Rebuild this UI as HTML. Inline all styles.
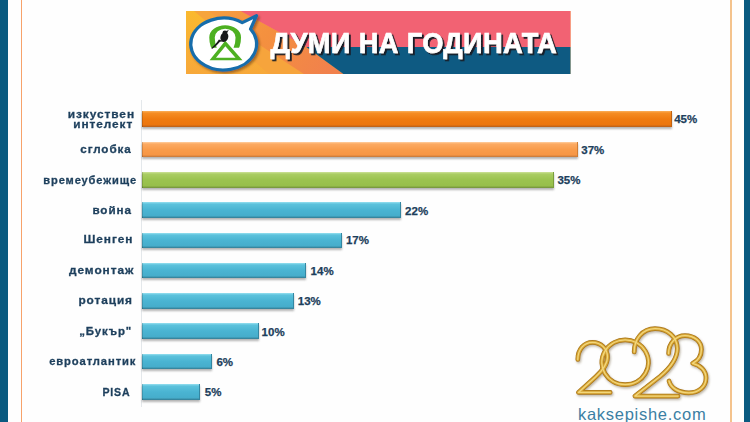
<!DOCTYPE html>
<html lang="bg">
<head>
<meta charset="utf-8">
<title>Думи на годината 2023</title>
<style>
  html, body { margin: 0; padding: 0; }
  body { width: 750px; height: 422px; overflow: hidden; background: #ffffff;
         font-family: "Liberation Sans", sans-serif; }
  #stage { position: relative; width: 750px; height: 422px; overflow: hidden; background: #fefefe; }
  .edge-l { position: absolute; left: 0; top: 0; width: 8px; height: 422px; background: #0a5a80; }
  .edge-r { position: absolute; left: 743.7px; top: 0; width: 6.3px; height: 422px; background: #0a5a80; }
  .line-l { position: absolute; left: 20.5px; top: 0; width: 1.5px; height: 422px; background: #f7a26a; }
  .line-r { position: absolute; left: 729.9px; top: 0; width: 2.1px; height: 422px; background: #f4c38d; }
  .axis { position: absolute; left: 141px; top: 100px; width: 1px; height: 307px; background: #e4e8eb; }

  .bar { position: absolute; left: 141.5px; height: 15.7px; box-sizing: border-box;
         box-shadow: 0 1.5px 2px rgba(90,90,90,.45); border-left: 1px solid rgba(0,0,0,.16); }
  .o1 { background: linear-gradient(#fbb05a 0, #f58d24 13%, #ef7b10 50%, #ec760e 86%, #b55f1c 100%); border-right: 1.5px solid #c2620f; }
  .o2 { background: linear-gradient(#ffcfa0 0, #fcaa62 13%, #f99c4b 50%, #f79644 86%, #c1773b 100%); border-right: 1.5px solid #cf7c33; }
  .g1 { background: linear-gradient(#cde299 0, #aacd63 13%, #9bc34f 50%, #97bf4b 86%, #71903b 100%); border-right: 1.5px solid #7a9d3c; }
  .b1 { background: linear-gradient(#97e0f0 0, #5cc2dc 13%, #4ab4d2 50%, #46adcb 86%, #327a91 100%); border-right: 1.5px solid #3486a1; }

  .lbl { position: absolute; -webkit-text-stroke: 0.3px #1d3f5c; white-space: nowrap; font-weight: bold; font-size: 11.5px; line-height: 12px; letter-spacing: 0.9px; color: #1d3f5c; transform-origin: 100% 50%; }
  .val { position: absolute; -webkit-text-stroke: 0.25px #1d3f5c; font-weight: bold; font-size: 11.5px; line-height: 12px; color: #1d3f5c; white-space: nowrap; }

  .site { position: absolute; left: 578px; top: 403.9px; font-size: 16.5px; line-height: 20px; letter-spacing: 0.72px; color: #3b7fa3; white-space: nowrap; }
</style>
</head>
<body>
<div id="stage">
  <div class="edge-l"></div><div class="edge-r"></div>
  <div class="line-l"></div><div class="line-r"></div>

  <!-- header banner -->
  <svg id="banner" style="position:absolute;left:186.3px;top:10.7px" width="384.5" height="63.7" viewBox="0 0 385 65" preserveAspectRatio="none">
    <defs>
      <filter id="ts" x="-5%" y="-20%" width="110%" height="150%">
        <feDropShadow dx="1.9" dy="1.9" stdDeviation="0.3" flood-color="#171c25" flood-opacity="1"/>
      </filter>
      <filter id="bs" x="-10%" y="-10%" width="125%" height="125%">
        <feDropShadow dx="1.6" dy="1.8" stdDeviation="1.1" flood-color="#6b3d0c" flood-opacity="0.6"/>
      </filter>
      <linearGradient id="yl" x1="0" y1="0" x2="0" y2="1">
        <stop offset="0" stop-color="#fab92f"/><stop offset="1" stop-color="#f7a83a"/>
      </linearGradient>
      <linearGradient id="sal" gradientUnits="userSpaceOnUse" x1="30" y1="0" x2="140" y2="65"><stop offset="0" stop-color="#f69d40"/><stop offset="0.45" stop-color="#f4903f"/><stop offset="1" stop-color="#f1814c"/></linearGradient>
      <clipPath id="ringclip"><rect x="0" y="0" width="80" height="37.4"/></clipPath>
    </defs>
    <rect x="0" y="0" width="385" height="65" fill="url(#yl)"/>
    <!-- diagonal stripes -->
    <polygon points="8,0 24,0 121,65 84,65" fill="#f6a43c"/>
    <polygon points="22,0 54.5,0 120.5,36.8 158.5,65 119,65" fill="url(#sal)"/>
    <polygon points="54.5,0 385,0 385,36.8 120.5,36.8" fill="#f26273"/>
    <polygon points="120.5,36.8 385,36.8 385,65 158.5,65" fill="#0e5a82"/>
    <!-- speech bubble -->
    <g filter="url(#bs)">
      <path d="M56.3,11.9 L70.6,4.8 L64.6,18.4 A33,26.4 0 1 1 56.3,11.9 Z" fill="#ffffff" stroke="#176dab" stroke-width="3.3" stroke-linejoin="round"/>
    </g>
    <!-- green ring + triangle -->
    <path clip-path="url(#ringclip)" fill="#4db021" fill-rule="evenodd" d="M23.3,27 A15.9,12.4 0 0 1 55.1,27 A15.9,22 0 0 1 39.2,49 A15.9,22 0 0 1 23.3,27 Z M28.8,27 A10.4,9 0 0 1 49.6,27 A10.4,18 0 0 1 39.2,45 A10.4,18 0 0 1 28.8,27 Z"/>
    <path fill="#4db021" fill-rule="evenodd" d="M39.3,30.3 L56.6,50.2 L23.6,50.2 Z M39.4,36 L49.6,47.6 L30,47.6 Z"/>
    <!-- bird -->
    <g fill="#17181b">
      <circle cx="39" cy="22.3" r="2.45"/>
      <path d="M40.3,20.3 L42.9,19.5 L41.2,21.9 Z"/>
      <ellipse cx="38.4" cy="26.6" rx="3.9" ry="5" transform="rotate(18 38.4 26.6)"/>
      <path d="M37.5,30.9 L34,31.4 C32.6,32.9 31.3,34.3 30,35.6 C28.7,36.7 27.4,37.8 26,38.7 C25.6,38.4 25.5,38 25.7,37.5 C27,36.4 28.2,35.2 29.3,34 C30.6,32.5 31.9,30.8 33,29 Z"/>
    </g>
    <!-- title -->
    <g filter="url(#ts)">
      <text transform="translate(84.6,43.2) scale(0.9,1)" x="0" y="0" font-family="Liberation Sans, sans-serif" font-weight="bold" font-size="30.2" fill="#ffffff" stroke="#ffffff" stroke-width="0.7" textLength="318.3" lengthAdjust="spacing">ДУМИ НА ГОДИНАТА</text>
    </g>
  </svg>

  <div class="axis"></div>

  <!-- bars -->
  <div class="bar o1" style="top:111.2px;width:530.5px"></div>
  <div class="bar o2" style="top:141.7px;width:436.3px"></div>
  <div class="bar g1" style="top:172.1px;width:412.7px"></div>
  <div class="bar b1" style="top:202.4px;width:259.2px"></div>
  <div class="bar b1" style="top:232.6px;width:200.3px"></div>
  <div class="bar b1" style="top:262.8px;width:164.8px"></div>
  <div class="bar b1" style="top:293.1px;width:152.5px"></div>
  <div class="bar b1" style="top:323.4px;width:117.0px"></div>
  <div class="bar b1" style="top:353.7px;width:70.4px"></div>
  <div class="bar b1" style="top:384.0px;width:58.5px"></div>

  <!-- labels -->
  <div class="lbl" style="top:108px;right:615.07px;transform:scaleX(1.0355)">изкуствен</div>
  <div class="lbl" style="top:118px;right:617.27px;transform:scaleX(1.0282)">интелект</div>
  <div class="lbl" style="top:143px;right:618.39px;transform:scaleX(1.0128)">сглобка</div>
  <div class="lbl" style="top:174px;right:613.54px;transform:scaleX(0.966)">времеубежище</div>
  <div class="lbl" style="top:204px;right:618.02px;transform:scaleX(1.015)">война</div>
  <div class="lbl" style="top:233px;right:616.67px;transform:scaleX(1.0309)">Шенген</div>
  <div class="lbl" style="top:264px;right:615.87px;transform:scaleX(1.0312)">демонтаж</div>
  <div class="lbl" style="top:294px;right:617.50px;transform:scaleX(1.03)">ротация</div>
  <div class="lbl" style="top:325px;right:617.52px;transform:scaleX(0.997)">„Букър"</div>
  <div class="lbl" style="top:355px;right:613.54px;transform:scaleX(0.976)">евроатлантик</div>
  <div class="lbl" style="top:386px;right:619.69px;transform:scaleX(0.919)">PISA</div>

  <!-- values -->
  <div class="val" style="left:674.2px;top:113px">45%</div>
  <div class="val" style="left:581.3px;top:144px">37%</div>
  <div class="val" style="left:557.4px;top:174.4px">35%</div>
  <div class="val" style="left:405.1px;top:205px">22%</div>
  <div class="val" style="left:345.9px;top:234px">17%</div>
  <div class="val" style="left:310.6px;top:265px">14%</div>
  <div class="val" style="left:297.8px;top:295.4px">13%</div>
  <div class="val" style="left:261.6px;top:326px">10%</div>
  <div class="val" style="left:216.4px;top:356px">6%</div>
  <div class="val" style="left:204.8px;top:386.3px">5%</div>

  <!-- 2023 gold -->
  <svg id="gold" style="position:absolute;left:565px;top:320px" width="155" height="85" viewBox="565 320 155 85">
    <defs>
      <filter id="gs" x="-10%" y="-10%" width="125%" height="130%">
        <feDropShadow dx="1" dy="1.5" stdDeviation="1.2" flood-color="#6b5a3a" flood-opacity="0.45"/>
      </filter>
    </defs>
    <g fill="none" stroke-linecap="round" stroke-linejoin="round" filter="url(#gs)">
      <g stroke="#a87416" stroke-width="4.7">
        <path id="d0" d="M625.2,339.9 A23.3,22.4 0 1 1 625.1,339.9 Z"/>
        <path id="d1" d="M577.8,359.5 C577.8,349.5 584,342.3 592.5,342.3 C601,342.3 607.5,349 607.5,357 C607.5,365 602,371 595.5,377 L578.4,392.4 L610.2,392.4"/>
        <path id="d2" d="M634.2,352 C634.2,339 642.5,328.6 655,328.6 C667.5,328.6 677.3,337 677.3,348.5 C677.3,360 669,369 660,376.5 L634.9,396.1 L678,396.1"/>
        <path id="d3" d="M668.6,353.5 C668.6,343 676,335.6 685,335.6 C694.5,335.6 701.4,341.5 701.4,349.5 C701.4,356.5 697.5,361 692.6,363.3 C700,365 706,370.5 706,378 C706,386.8 698.5,392.8 688.8,392.8 C678.5,392.8 671,388.3 669,381"/>
      </g>
      <g stroke="#d6a535" stroke-width="3.3"><use href="#d0"/><use href="#d1"/><use href="#d2"/><use href="#d3"/></g>
      <g stroke="#f3d77c" stroke-width="1.3">
        <use href="#d0"/><use href="#d1"/><use href="#d2"/><use href="#d3"/>
      </g>
    </g>
  </svg>

  <div class="site">kaksepishe.com</div>
</div>
</body>
</html>
